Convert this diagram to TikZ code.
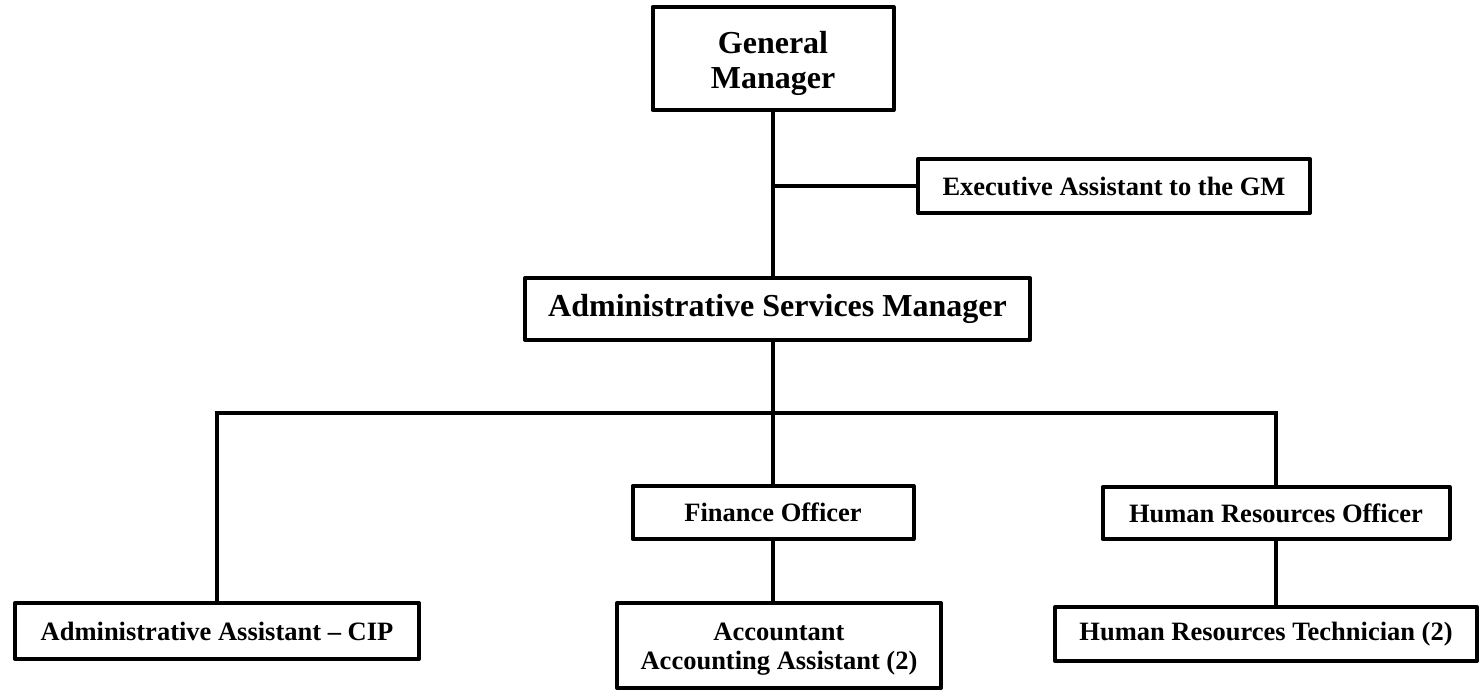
\documentclass[tikz,border=0pt]{standalone}
\usepackage{fontspec}
\setmainfont{Liberation Serif}
\begin{document}
\begin{tikzpicture}[x=1pt,y=-1pt,
  box/.style={draw=black, line width=4pt, line join=round, inner sep=0pt, align=center, fill=white,
    font=\bfseries\fontsize{26.5}{29}\selectfont},
  bigbox/.style={box, font=\bfseries\fontsize{32}{35}\selectfont},
  conn/.style={draw=black, line width=4pt, line join=miter}]
\useasboundingbox (0,0) rectangle (1480,693);
% nodes
\node[bigbox, minimum width=241pt, minimum height=103pt] (GM) at (773,58.5) {\rule{0pt}{32pt}General\\Manager};
\node[box, minimum width=392pt, minimum height=54pt] (EA) at (1114,186) {Executive Assistant to the GM};
\node[bigbox, minimum width=505pt, minimum height=62pt] (ASM) at (777.5,309) {Administrative Services Manager};
\node[box, minimum width=404pt, minimum height=56pt] (AA) at (217,631) {Administrative Assistant -- CIP};
\node[box, minimum width=281pt, minimum height=53pt] (FO) at (773,512.5) {Finance Officer};
\node[box, minimum width=324pt, minimum height=85pt] (ACC) at (779,645.5) {\rule{0pt}{24pt}Accountant\\Accounting Assistant (2)};
\node[box, minimum width=347pt, minimum height=52pt] (HRO) at (1276,513) {Human Resources Officer};
\node[box, minimum width=422pt, minimum height=54pt] (HRT) at (1266,634) {Human Resources Technician (2)};
% junctions
\coordinate (jEA) at (773,186);
\coordinate (bus) at (773,413);
% connectors
\draw[conn] (GM.south) -- (GM.south |- ASM.north);
\draw[conn] (jEA) -- (EA.west);
\draw[conn] (ASM.south -| GM.south) -- (bus);
\draw[conn] (AA.north) |- (bus);
\draw[conn] (HRO.north) |- (bus);
\draw[conn] (bus) -- (FO.north);
\draw[conn] (FO.south) -- (FO.south |- ACC.north);
\draw[conn] (HRO.south) -- (HRO.south |- HRT.north);
\end{tikzpicture}
\end{document}
